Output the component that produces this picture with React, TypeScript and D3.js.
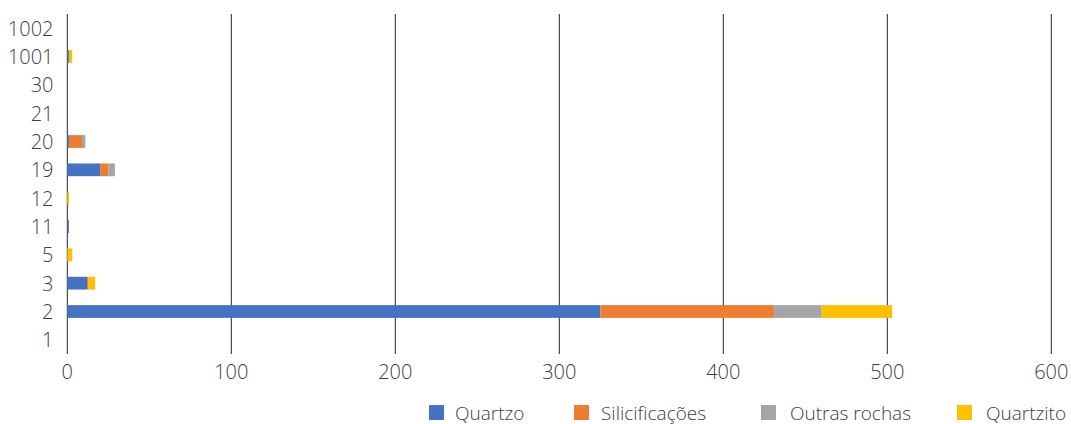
import React from "react";
import * as d3 from "d3";

// Categories, listed top to bottom
const categories = ["1002", "1001", "30", "21", "20", "19", "12", "11", "5", "3", "2", "1"];

const quartzo = [0, 1, 0, 0, 1, 20, 0, 1, 0, 12, 325, 0];
const silicificacoes = [0, 0, 0, 0, 8, 5, 0, 0, 0, 1, 106, 0];
const outrasRochas = [0, 0, 0, 0, 2, 4, 0, 0, 0, 0, 29, 0];
const quartzito = [0, 2, 0, 0, 0, 0, 1, 0, 3, 4, 43, 0];

const seriesNames = ["Quartzo", "Silicificações", "Outras rochas", "Quartzito"];
const seriesColors = ["#4472C4", "#ED7D31", "#A5A5A5", "#FFC000"];
const xTicks = [0, 100, 200, 300, 400, 500, 600];

const W = 1071;
const H = 424;
const FONT = "'Open Sans', 'Noto Sans', sans-serif";
const TEXT = "#404040";

export default function App() {
  const left = 67.3;
  const right = 1051.3;
  const top = 14;
  const bottom = 354;

  const x = d3.scaleLinear().domain([0, 600]).range([left, right]);
  const y = d3
    .scaleBand<string>()
    .domain(categories)
    .range([top, bottom])
    .paddingInner(0.55)
    .paddingOuter(0.275);

  const rows = categories.map((c, i) => ({
    cat: c,
    q: quartzo[i],
    s: silicificacoes[i],
    o: outrasRochas[i],
    z: quartzito[i],
  }));
  const stack = d3.stack<any>().keys(["q", "s", "o", "z"]);
  const layers = stack(rows);

  const legendItems = [
    { sq: 429, tx: 455 },
    { sq: 574, tx: 601 },
    { sq: 761, tx: 790 },
    { sq: 957, tx: 986 },
  ];

  return (
    <svg
      width={W}
      height={H}
      style={{ position: "absolute", left: 0, top: 0, background: "#fff" }}
      fontFamily={FONT}
    >
      {/* vertical gridlines */}
      {xTicks.map((t) => (
        <line
          key={t}
          x1={x(t)}
          x2={x(t)}
          y1={top}
          y2={bottom}
          stroke="#262626"
          strokeWidth={1}
        />
      ))}

      {/* stacked bars */}
      {layers.map((layer, li) =>
        layer.map((d, i) => {
          const w = x(d[1]) - x(d[0]);
          if (w <= 0) return null;
          return (
            <rect
              key={`${li}-${i}`}
              x={x(d[0])}
              y={y(categories[i])}
              width={w}
              height={y.bandwidth()}
              fill={seriesColors[li]}
            />
          );
        })
      )}

      {/* x tick labels */}
      {xTicks.map((t) => (
        <text
          key={t}
          x={x(t)}
          y={379}
          textAnchor="middle"
          fontSize={20}
          fontWeight={300}
          fill={TEXT}
        >
          {t}
        </text>
      ))}

      {/* category labels */}
      {categories.map((c) => (
        <text
          key={c}
          x={53.5}
          y={(y(c) as number) + y.bandwidth() / 2 + 7.5}
          textAnchor="end"
          fontSize={20}
          fontWeight={300}
          fill={TEXT}
        >
          {c}
        </text>
      ))}

      {/* legend */}
      {seriesNames.map((name, i) => (
        <g key={name}>
          <rect x={legendItems[i].sq} y={405} width={15} height={15} fill={seriesColors[i]} />
          <text
            x={legendItems[i].tx}
            y={419.5}
            fontSize={19}
            fontWeight={300}
            fill={TEXT}
          >
            {name}
          </text>
        </g>
      ))}
    </svg>
  );
}
